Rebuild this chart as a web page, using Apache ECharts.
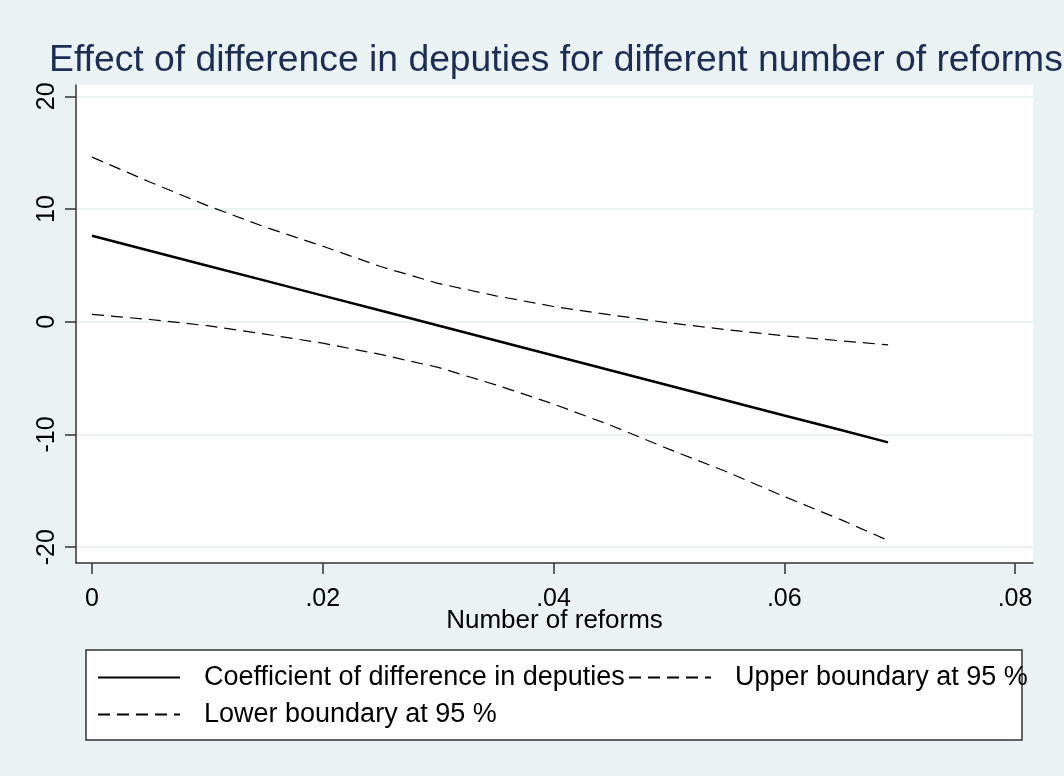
<!DOCTYPE html>
<html>
<head>
<meta charset="utf-8">
<script src="https://cdn.jsdelivr.net/npm/echarts@6/dist/echarts.min.js"></script>
<style>html,body{margin:0;padding:0;background:#eaf2f3;}#c{width:1064px;height:776px;}</style>
</head>
<body>
<div id="c"></div>
<script>
const reforms = [0, 0.005, 0.01, 0.015, 0.02, 0.025, 0.03, 0.035, 0.04, 0.045, 0.05, 0.055, 0.06, 0.065, 0.069];
const coefficient = [7.63, 6.30, 4.97, 3.65, 2.32, 0.99, -0.34, -1.67, -2.99, -4.32, -5.65, -6.98, -8.31, -9.63, -10.70];
const upper = [14.6, 12.4, 10.3, 8.4, 6.7, 4.9, 3.4, 2.3, 1.35, 0.6, -0.1, -0.7, -1.25, -1.7, -2.05];
const lower = [0.65, 0.2, -0.35, -1.1, -1.9, -2.9, -4.05, -5.6, -7.3, -9.2, -11.3, -13.3, -15.5, -17.6, -19.4];
const xTicks = [0, 0.02, 0.04, 0.06, 0.08];
const xTickLabels = ['0', '.02', '.04', '.06', '.08'];
const yTicks = [-20, -10, 0, 10, 20];
const seriesNames = ['Coefficient of difference in deputies', 'Upper boundary at 95 %', 'Lower boundary at 95 %'];

const FONT = 'Liberation Sans, Arial, sans-serif';
const chart = echarts.init(document.getElementById('c'), null, {renderer: 'canvas'});
const pair = (ys) => reforms.map((x, i) => [x, ys[i]]);
const legendText = {color: '#000', fontSize: 27, fontFamily: FONT, padding: [0, 0, 0, 19]};
const legendBase = {padding: 0, itemWidth: 82, itemHeight: 20, textStyle: legendText, itemStyle: {opacity: 0}};
chart.setOption({
  backgroundColor: '#eaf2f3',
  animation: false,
  title: {
    text: 'Effect of difference in deputies for different number of reforms',
    left: 44, top: 37,
    textStyle: {color: '#1e2d53', fontSize: 37.3, fontWeight: 'normal', fontFamily: FONT}
  },
  graphic: [{
    type: 'rect', shape: {x: 86, y: 650, width: 936, height: 90},
    style: {fill: '#fff', stroke: '#333', lineWidth: 1.5}, z: -1
  }],
  legend: [
    Object.assign({data: [seriesNames[0]], left: 97, top: 664}, legendBase),
    Object.assign({data: [seriesNames[1]], left: 628, top: 664}, legendBase),
    Object.assign({data: [seriesNames[2]], left: 97, top: 701}, legendBase)
  ],
  grid: {left: 76, right: 31, top: 85, bottom: 213, show: true, backgroundColor: '#fff', borderWidth: 0},
  xAxis: {
    type: 'value', min: -0.00139, max: 0.08156,
    name: 'Number of reforms', nameLocation: 'middle', nameGap: 45, nameMoveOverlap: false,
    nameTextStyle: {color: '#000', fontSize: 26, fontFamily: FONT},
    axisLine: {onZero: false, lineStyle: {color: '#333', width: 1.5}},
    axisTick: {show: true, length: 11, customValues: xTicks, lineStyle: {color: '#333', width: 1.5}},
    axisLabel: {customValues: xTicks, color: '#000', fontSize: 25, fontFamily: FONT, margin: 24,
      formatter: (v) => xTickLabels[xTicks.findIndex(t => Math.abs(t - v) < 1e-9)] ?? ''},
    splitLine: {show: false}
  },
  yAxis: {
    type: 'value', min: -21.4, max: 21.0,
    axisLine: {show: true, onZero: false, lineStyle: {color: '#333', width: 1.5}},
    axisTick: {show: true, length: 11, customValues: yTicks, lineStyle: {color: '#333', width: 1.5}},
    axisLabel: {customValues: yTicks, color: '#000', fontSize: 25, fontFamily: FONT, rotate: 90, margin: 16},
    splitLine: {show: true, lineStyle: {color: '#eaf2f3', width: 2}}
  },
  series: [
    {name: seriesNames[0], type: 'line', data: pair(coefficient), showSymbol: false, symbol: 'none',
      lineStyle: {color: '#000', width: 2.5}, itemStyle: {color: '#000'}},
    {name: seriesNames[1], type: 'line', data: pair(upper), showSymbol: false, symbol: 'none',
      lineStyle: {color: '#000', width: 1.2, type: [12, 7]}, itemStyle: {color: '#000'}},
    {name: seriesNames[2], type: 'line', data: pair(lower), showSymbol: false, symbol: 'none',
      lineStyle: {color: '#000', width: 1.2, type: [12, 7]}, itemStyle: {color: '#000'}}
  ]
});
</script>
</body>
</html>
